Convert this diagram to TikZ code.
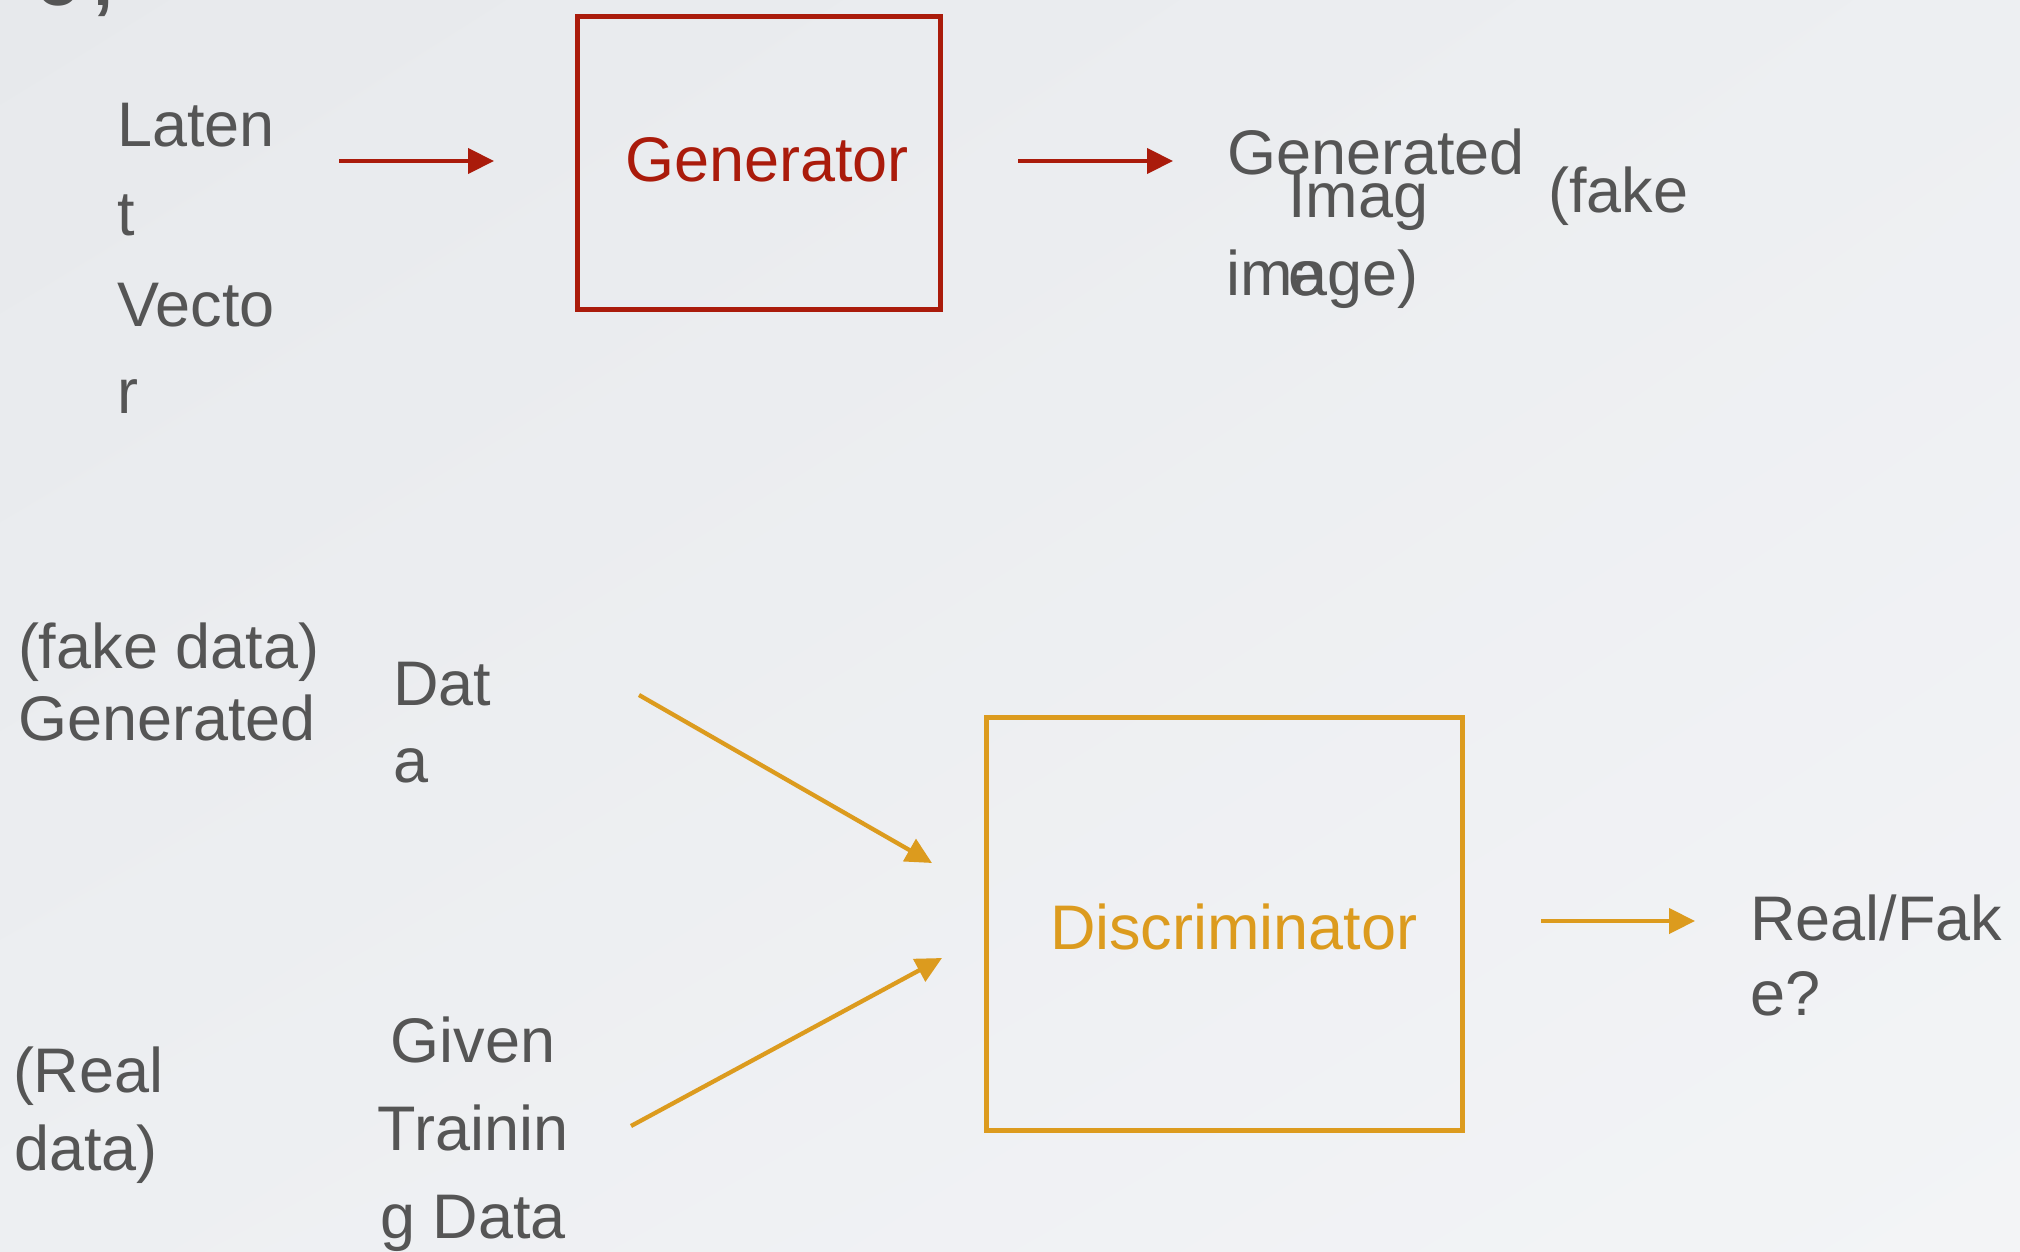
\documentclass[tikz,border=0pt]{standalone}
\usepackage{fontspec}
\setmainfont{Liberation Sans}
\usetikzlibrary{arrows.meta,shadings}
\definecolor{bgA}{HTML}{E7E9EC}
\definecolor{bgM}{HTML}{EDEFF2}
\definecolor{bgB}{HTML}{F3F4F6}
\definecolor{txt}{HTML}{555555}
\definecolor{genred}{HTML}{AA1B0B}
\definecolor{disor}{HTML}{DC9B1E}
\begin{document}
\begin{tikzpicture}[x=1pt,y=-1pt,
  lbl/.style={anchor=base west, inner sep=0pt, outer sep=0pt, text=txt,
    font=\fontsize{63}{75}\selectfont},
  clbl/.style={lbl, anchor=base},
  boxstyle/.style={draw=#1, line width=5pt, anchor=north west, inner sep=0pt},
  arr/.style={draw=#1, line width=4.3pt, -{Triangle[length=26pt,width=25pt]}}]
\useasboundingbox (0,0) rectangle (2020,1252);
\shade[upper left=bgA, upper right=bgM, lower left=bgM, lower right=bgB]
  (0,0) rectangle (2020,1252);
% cut-off text at the top edge
\node[lbl, font=\bfseries\fontsize{72}{80}\selectfont] (frag) at (36,6) {o\kern14pt,};
% generator row
\node[lbl] (lat1) at (117,147) {Laten};
\node[lbl] (lat2) at (117,235) {t};
\node[lbl] (lat3) at (117,326) {Vecto};
\node[lbl] (lat4) at (117,413) {r};
\node[boxstyle=genred, minimum width=363pt, minimum height=293pt] (gen) at (575,14) {};
\node[lbl, text=genred] (gentxt) at (625,182) {Generator};
\node[lbl] (gi1) at (1227,175) {Generated};
\node[lbl] (gi2) at (1288,217) {Imag};
\node[lbl] (gi3) at (1548,212) {(fake};
\node[lbl] (gi4) at (1226,295) {image)};
\node[lbl] (gi5) at (1288,295) {e};
\coordinate (r1s) at (339,161);
\coordinate (r1e) at (494,161);
\coordinate (r2s) at (1018,161);
\coordinate (r2e) at (1173,161);
\draw[arr=genred] (r1s) -- (r1e);
\draw[arr=genred] (r2s) -- (r2e);
% discriminator row
\node[lbl] (fd1) at (18,668) {(fake data)};
\node[lbl] (fd2) at (18,740) {Generated};
\node[lbl] (fd3) at (393,705) {Dat};
\node[lbl] (fd4) at (393,782) {a};
\node[lbl] (rd1) at (13,1092) {(Real};
\node[lbl] (rd2) at (14,1170) {data)};
\node[clbl] (rd3) at (473,1062) {Given};
\node[clbl] (rd4) at (473,1150) {Trainin};
\node[clbl] (rd5) at (473,1238) {g Data};
\node[boxstyle=disor, minimum width=476pt, minimum height=413pt] (dis) at (984,715) {};
\node[lbl, text=disor] (distxt) at (1050,949) {Discriminator};
\node[lbl] (rf1) at (1750,940) {Real/Fak};
\node[lbl] (rf2) at (1750,1015) {e?};
\coordinate (o1s) at (639,695);
\coordinate (o1e) at (932,863);
\coordinate (o2s) at (631,1126);
\coordinate (o2e) at (942,958);
\coordinate (o3s) at (1541,921);
\coordinate (o3e) at (1695,921);
\draw[arr=disor] (o1s) -- (o1e);
\draw[arr=disor] (o2s) -- (o2e);
\draw[arr=disor] (o3s) -- (o3e);
\end{tikzpicture}
\end{document}
